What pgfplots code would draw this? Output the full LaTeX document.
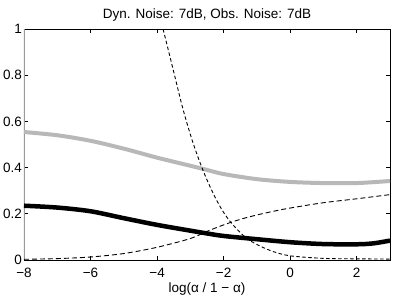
\documentclass[border=0pt]{standalone}
\usepackage{pgfplots}
\pgfplotsset{compat=1.18}
\usepackage{fontspec}
\setmainfont{Liberation Sans}
\begin{document}
\begin{tikzpicture}[x=1pt,y=1pt]
\path[use as bounding box] (-24,-39) rectangle (372,260);
\begin{axis}[
  at={(0,0)}, anchor=south west,
  scale only axis, width=366pt, height=231pt,
  xmin=-8, xmax=3, ymin=0, ymax=1,
  xtick={-8,-6,-4,-2,0,2},
  xticklabels={−8,−6,−4,−2,0,2},
  ytick={0,0.2,0.4,0.6,0.8,1},
  yticklabels={0,0.2,0.4,0.6,0.8,1},
  tick align=inside, tick pos=both,
  major tick length=4pt,
  tick style={black, line width=0.6pt},
  axis line style={line width=0.8pt},
  every tick label/.append style={font=\fontsize{13.5}{15}\selectfont},
  xticklabel style={inner sep=1pt, yshift=-7pt},
  yticklabel style={inner sep=1pt, xshift=-1pt},
  title={Dyn. Noise: 7dB, Obs. Noise: 7dB},
  title style={font=\fontsize{13.5}{15}\selectfont, yshift=-2pt},
  xlabel={log(α / 1 − α)},
  xlabel style={font=\fontsize{13.5}{15}\selectfont, yshift=0pt},
  clip=true,
]
\addplot[gray!80, line width=1.6pt] coordinates {(-8,0) (-8,1)};
\addplot[color={rgb,1:red,0.72;green,0.72;blue,0.72}, line width=4pt, smooth] coordinates {
(-8,0.554)(-7,0.54)(-6,0.516)(-5,0.482)(-4,0.443)(-3,0.408)(-2.5,0.39)(-2,0.372)(-1,0.35)(0,0.338)(1,0.333)(2,0.333)(3,0.342)};
\addplot[black, line width=4.5pt, smooth] coordinates {
(-8,0.235)(-7,0.227)(-6,0.211)(-5,0.181)(-4,0.152)(-3,0.127)(-2.5,0.115)(-2,0.104)(-1,0.09)(0,0.077)(1,0.069)(2,0.068)(2.5,0.072)(3,0.084)};
\addplot[black, line width=0.9pt, dash pattern=on 5pt off 3pt, smooth] coordinates {
(-8,0.003)(-7,0.006)(-6,0.013)(-5,0.028)(-4,0.055)(-3,0.093)(-2.5,0.124)(-2,0.152)(-1.5,0.176)(-1,0.195)(-0.5,0.211)(0,0.225)(1,0.248)(2,0.265)(3,0.283)};
\addplot[black, line width=0.9pt, dash pattern=on 3.5pt off 2.5pt, smooth] coordinates {
(-3.9,1.05)(-3.82,1)(-3.52,0.826)(-3.22,0.652)(-2.92,0.507)(-2.62,0.388)(-2.32,0.29)(-2.02,0.21)(-1.72,0.152)(-1.31,0.094)(-0.9,0.06)(-0.5,0.036)(0,0.018)(1,0.007)(2,0.005)(3,0.004)};
\end{axis}
\end{tikzpicture}
\end{document}
